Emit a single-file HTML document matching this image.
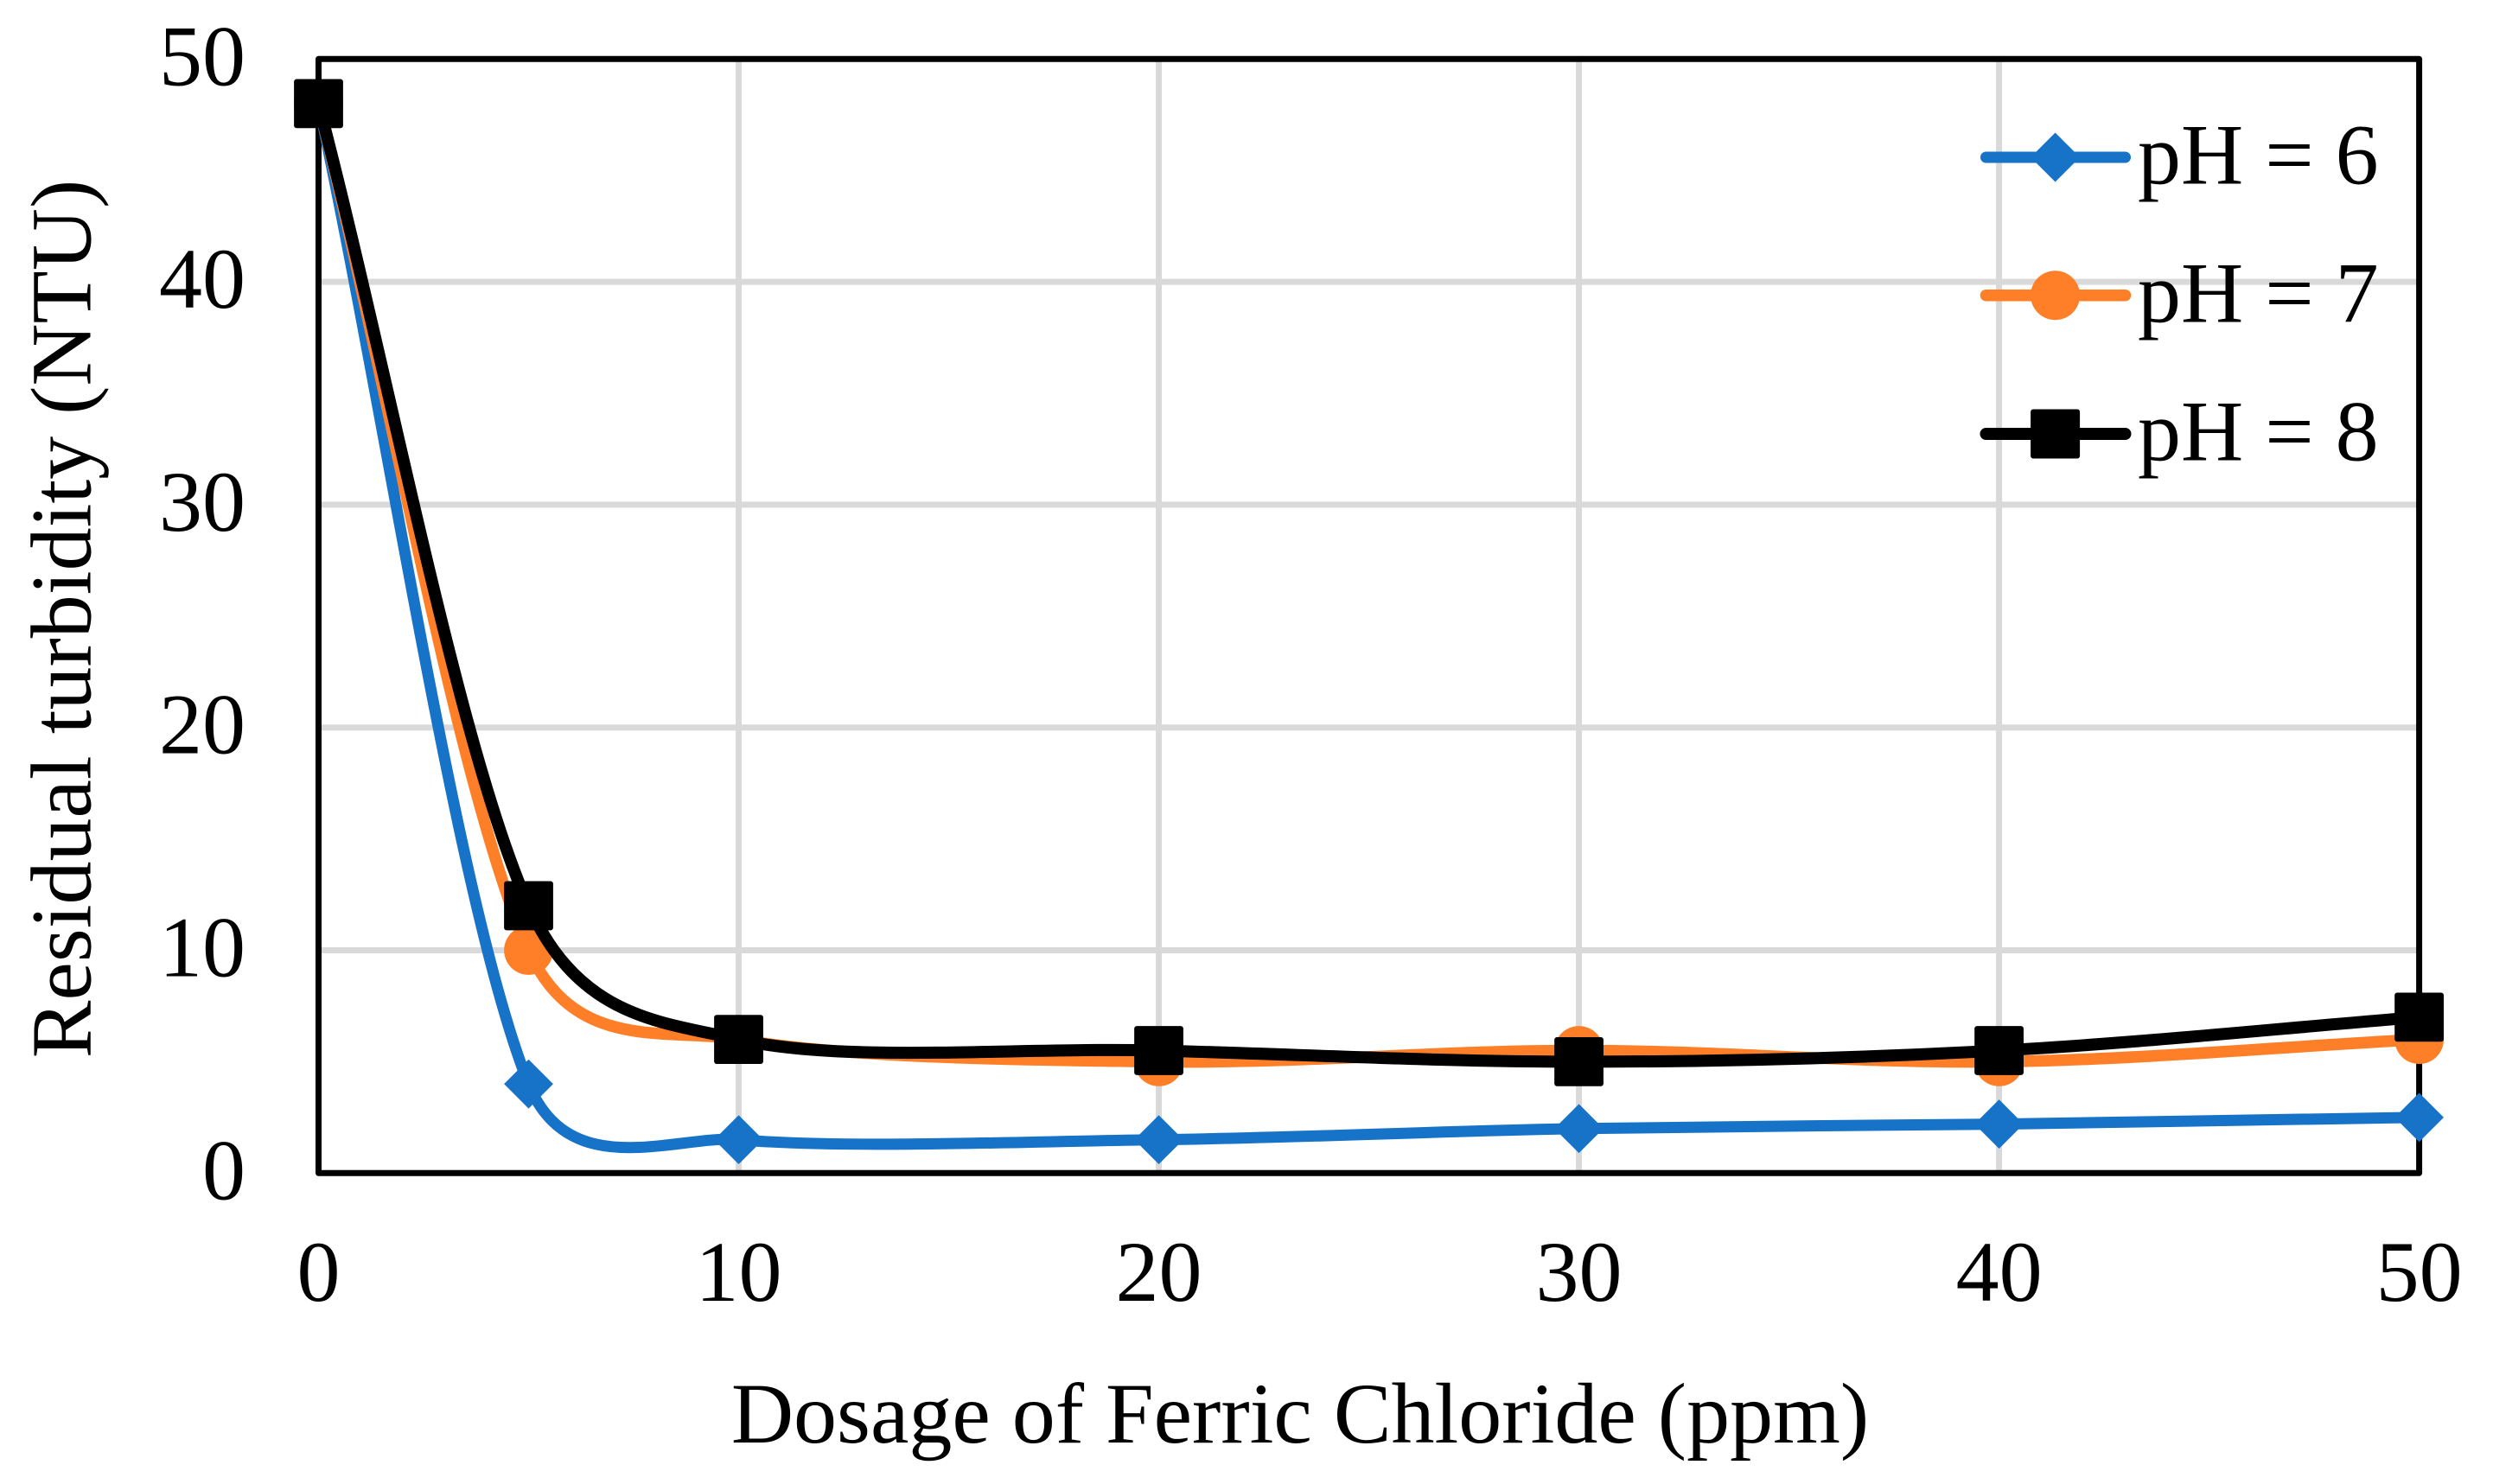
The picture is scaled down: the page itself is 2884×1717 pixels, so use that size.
<!DOCTYPE html>
<html lang="en">
<head>
<meta charset="utf-8">
<title>Residual turbidity vs dosage of ferric chloride</title>
<style>
html,body{margin:0;padding:0;background:#fff;}
svg{display:block;}
text{font-family:"Liberation Serif","Times New Roman",serif;fill:#000;}
</style>
</head>
<body>
<svg id="chart" xmlns="http://www.w3.org/2000/svg" width="2884" height="1717" viewBox="0 0 2884 1717">
  <rect x="0" y="0" width="2884" height="1717" fill="#ffffff"/>
  <g id="grid"></g>
  <rect x="368.5" y="68.3" width="2430.1" height="1289" fill="none" stroke="#000000" stroke-width="7" stroke-linejoin="round"/>
  <g id="series"></g>
  <g id="xticks" font-size="100" text-anchor="middle"></g>
  <g id="yticks" font-size="100" text-anchor="end"></g>
  <text x="1504" y="1669" font-size="100" text-anchor="middle">Dosage of Ferric Chloride (ppm)</text>
  <text transform="translate(104.5 716) rotate(-90)" font-size="100" text-anchor="middle">Residual turbidity (NTU)</text>
  <g>
    <g>
      <line x1="2297.5" y1="182" x2="2458.5" y2="182" stroke="#1773c8" stroke-width="13" stroke-linecap="round"/>
      <polygon points="2377.6,153.5 2406.1,182 2377.6,210.5 2349.1,182" fill="#1773c8"/>
      <text x="2473" y="212.5" font-size="100">pH = 6</text>
    </g>
    <g>
      <line x1="2297.5" y1="341.7" x2="2458.5" y2="341.7" stroke="#fe7f27" stroke-width="13.5" stroke-linecap="round"/>
      <circle cx="2377.6" cy="341.7" r="28.5" fill="#fe7f27"/>
      <text x="2473" y="372.5" font-size="100">pH = 7</text>
    </g>
    <g>
      <line x1="2297.5" y1="502" x2="2458.5" y2="502" stroke="#000000" stroke-width="14" stroke-linecap="round"/>
      <rect x="2349.1" y="473.5" width="57" height="57" rx="3" fill="#000000"/>
      <text x="2473" y="532.5" font-size="100">pH = 8</text>
    </g>
  </g>
</svg>
<script>
const dosage = [0, 5, 10, 20, 30, 40, 50];
const ph6 = [48, 4, 1.5, 1.5, 2, 2.2, 2.5];
const ph7 = [48, 10, 6, 5, 5.5, 5, 6];
const ph8 = [48, 12, 6, 5.5, 5, 5.5, 7];
const xTickLabels = [0, 10, 20, 30, 40, 50];
const yTickLabels = [0, 10, 20, 30, 40, 50];

const NS = 'http://www.w3.org/2000/svg';
const plotLeft = 368.5, plotRight = 2798.6, plotTop = 68.3, plotBottom = 1357.3;
const xMax = 50, yMax = 50;
function xScale(v) { return plotLeft + (v / xMax) * (plotRight - plotLeft); }
function yScale(v) { return plotBottom - (v / yMax) * (plotBottom - plotTop); }
function make(tag, attrs, parent) {
  const el = document.createElementNS(NS, tag);
  for (const k in attrs) el.setAttribute(k, attrs[k]);
  parent.appendChild(el);
  return el;
}
function dist(a, b) { return Math.hypot(a[0] - b[0], a[1] - b[1]); }

/* Spreadsheet-style smoothed line: cubic segments whose handles come from neighbouring points */
function smoothPath(pts) {
  let d = 'M' + pts[0][0].toFixed(2) + ' ' + pts[0][1].toFixed(2);
  for (let i = 0; i < pts.length - 1; i++) {
    const p1 = pts[i], p2 = pts[i + 1];
    const p0 = i > 0 ? pts[i - 1] : p1;
    const p3 = i + 2 < pts.length ? pts[i + 2] : p2;
    const d12 = dist(p1, p2), d02 = dist(p0, p2), d13 = dist(p1, p3);
    const bigStart = d02 / 6 >= d12 / 2, bigEnd = d13 / 6 >= d12 / 2;
    let f1 = 1 / 6, f2 = 1 / 6;
    if (bigStart && bigEnd) {
      f1 = d12 / 2 / d02;
      f2 = d12 / 2 / d13;
    } else if (bigStart) {
      f1 = d12 / 2 / d02;
      f2 = d12 / 2 / d02;
    } else if (bigEnd) {
      f1 = d12 / 2 / d13;
      f2 = d12 / 2 / d13;
    }
    if (i === 0) f1 = 1 / 3;
    if (i === pts.length - 2) f2 = 1 / 3;
    const c1 = [p1[0] + (p2[0] - p0[0]) * f1, p1[1] + (p2[1] - p0[1]) * f1];
    const c2 = [p2[0] + (p1[0] - p3[0]) * f2, p2[1] + (p1[1] - p3[1]) * f2];
    d += ' C' + c1[0].toFixed(2) + ' ' + c1[1].toFixed(2) + ' ' + c2[0].toFixed(2) + ' ' + c2[1].toFixed(2) + ' ' + p2[0].toFixed(2) + ' ' + p2[1].toFixed(2);
  }
  return d;
}

const gridGroup = document.getElementById('grid');
xTickLabels.forEach(function (t) {
  if (t === 0 || t === xMax) return;
  const line = make('line', { x1: xScale(t), x2: xScale(t), y1: plotTop, y2: plotBottom, stroke: '#d9d9d9', 'stroke-width': 7 }, gridGroup);
  
  
});
yTickLabels.forEach(function (t) {
  if (t === 0 || t === yMax) return;
  const line = make('line', { x1: plotLeft, x2: plotRight, y1: yScale(t), y2: yScale(t), stroke: '#d9d9d9', 'stroke-width': 7 }, gridGroup);
  
  
});

const xTickGroup = document.getElementById('xticks');
xTickLabels.forEach(function (t) {
  const label = make('text', { x: xScale(t), y: 1505 }, xTickGroup);
  label.textContent = String(t);
  
  
});
const yTickGroup = document.getElementById('yticks');
yTickLabels.forEach(function (t) {
  const label = make('text', { x: 284, y: yScale(t) + 30 }, yTickGroup);
  label.textContent = String(t);
  
  
});

const seriesGroup = document.getElementById('series');
const half = 28.4;
function drawSeries(values, color, shape, name, lineWidth) {
  const g = make('g', {}, seriesGroup);
  
  
  const pts = values.map(function (v, i) { return [xScale(dosage[i]), yScale(v)]; });
  const path = make('path', { d: smoothPath(pts), fill: 'none', stroke: color, 'stroke-width': lineWidth, 'stroke-linejoin': 'round', 'stroke-linecap': 'round' }, g);
  
  
  pts.forEach(function (p) {
    let m;
    if (shape === 'diamond') {
      m = make('polygon', { points: p[0] + ',' + (p[1] - half) + ' ' + (p[0] + half) + ',' + p[1] + ' ' + p[0] + ',' + (p[1] + half) + ' ' + (p[0] - half) + ',' + p[1], fill: color }, g);
    } else if (shape === 'circle') {
      m = make('circle', { cx: p[0], cy: p[1], r: half, fill: color }, g);
    } else {
      m = make('rect', { x: p[0] - half, y: p[1] - half, width: half * 2, height: half * 2, rx: 3, fill: color }, g);
    }
    
    
  });
}
drawSeries(ph6, '#1773c8', 'diamond', 'series-ph6', 13);
drawSeries(ph7, '#fe7f27', 'circle', 'series-ph7', 13.5);
drawSeries(ph8, '#000000', 'square', 'series-ph8', 14);
</script>
</body>
</html>
